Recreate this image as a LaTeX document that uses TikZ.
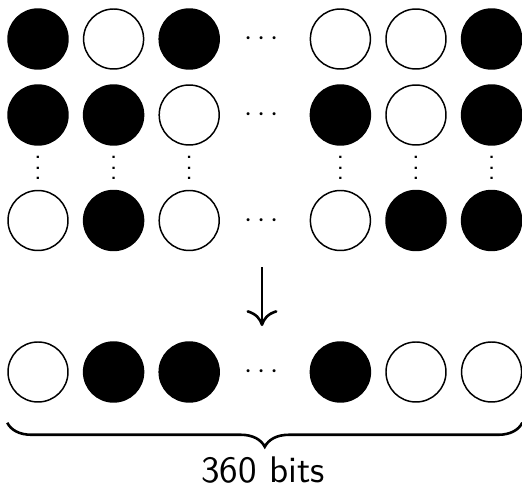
\documentclass[tikz,border=0pt]{standalone}
\usepackage{graphicx}
\usetikzlibrary{arrows.meta,calc,decorations.pathreplacing}

% three stacked dots, like \vdots but without the space above
\newcommand{\dotcolumn}{\vbox{\baselineskip4pt\lineskiplimit0pt\hbox{.}\hbox{.}\hbox{.}}}

\begin{document}
\begin{tikzpicture}[
    x=0.27pt, y=-0.27pt,
    font=\sffamily,
    bit/.style={circle, draw, line width=0.4pt, minimum size=16.2pt, inner sep=0pt},
    bit 1/.style={bit, fill=black},
    bit 0/.style={bit, fill=white},
    hdots/.style={anchor=base, inner sep=0pt},
    vdots/.style={anchor=base, inner sep=0pt},
    merge/.style={-{Computer Modern Rightarrow[length=4.3pt,width=8.4pt]}, line width=0.7pt},
    brace/.style={decorate, decoration={brace, mirror, amplitude=6.5pt}, line width=0.7pt}
  ]
  \useasboundingbox (0,0) rectangle (522,488);

  % rows of bits, column 4 holds the dots
  \foreach \r/\y/\pattern in {
      1/39/{1/1,2/0,3/1,5/0,6/0,7/1},
      2/115/{1/1,2/1,3/0,5/1,6/0,7/1},
      3/220.5/{1/0,2/1,3/0,5/0,6/1,7/1},
      b/372/{1/0,2/1,3/1,5/1,6/0,7/0}} {
    \foreach \c/\b in \pattern
      \node[bit \b] (r\r-\c) at ({38+75.6*(\c-1)},\y) {};
    \node[hdots] (r\r-4) at (262,{\y+7}) {\scalebox{0.79}{$\cdots$}};
  }

  \foreach \c in {1,2,3,5,6,7}
    \node[vdots] (gap-\c) at ({38+75.6*(\c-1)},180) {\scalebox{0.74}{\dotcolumn}};

  \draw[merge, shorten <=10.8pt, shorten >=14.3pt] (r3-4.base) -- (rb-4.base);

  \draw[brace] ($(rb-1.west |- rb-1.south)+(0,20)$) -- ($(rb-7.east |- rb-7.south)+(0,20)$);
  \node[anchor=base] (width) at (263,483) {360 bits};
\end{tikzpicture}
\end{document}
